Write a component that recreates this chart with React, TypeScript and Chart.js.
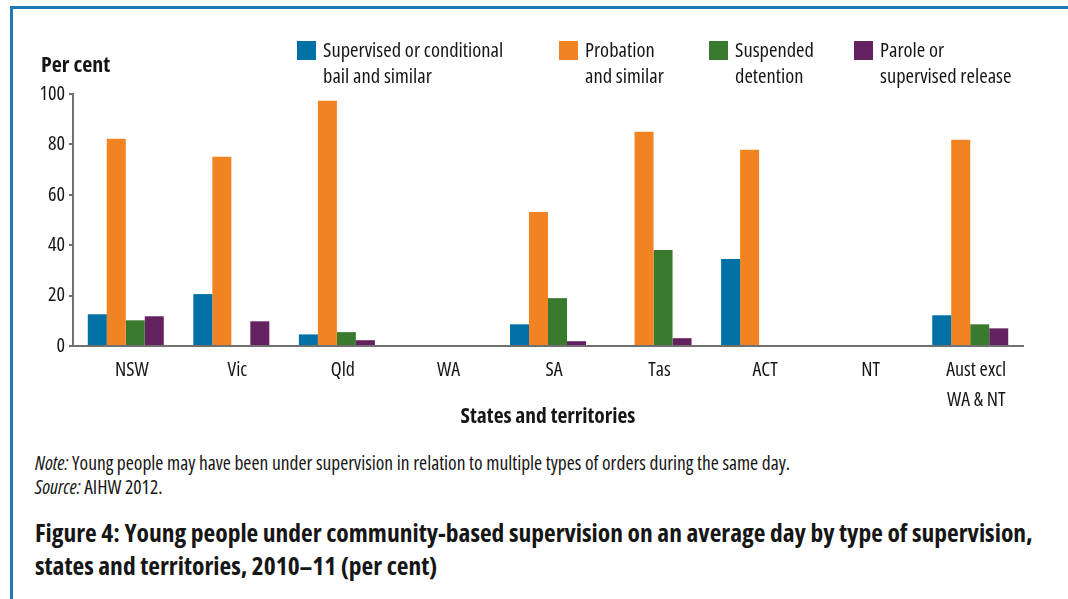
import React, { useEffect, useRef } from "react";
import { Chart, registerables } from "chart.js";

Chart.register(...registerables);

// ---- data ----
const categories: string[][] = [
  ["NSW"], ["Vic"], ["Qld"], ["WA"], ["SA"], ["Tas"], ["ACT"], ["NT"], ["Aust excl", "WA & NT"],
];
const seriesNames: string[][] = [
  ["Supervised or conditional", "bail and similar"],
  ["Probation", "and similar"],
  ["Suspended", "detention"],
  ["Parole or", "supervised release"],
];
const supervisedBail: (number | null)[] = [12.6, 20.6, 4.6, null, 8.6, null, 34.5, null, 12.2];
const probation: (number | null)[] = [82.2, 75.1, 97.3, null, 53.2, 85.0, 77.9, null, 81.8];
const suspendedDetention: (number | null)[] = [10.2, null, 5.5, null, 19.0, 38.1, null, null, 8.6];
const parole: (number | null)[] = [11.8, 9.8, 2.3, null, 1.9, 3.1, null, null, 7.0];
const yTicks: number[] = [0, 20, 40, 60, 80, 100];
const yAxisLabel = "Per cent";
const xAxisLabel = "States and territories";
const noteLines = ["Young people may have been under supervision in relation to multiple types of orders during the same day.", "AIHW 2012."];
const figureTitleLines = [
  "Figure 4: Young people under community-based supervision on an average day by type of supervision,",
  "states and territories, 2010\u201311 (per cent)",
];

// ---- styles ----
const COLORS = ["#0071A7", "#F28322", "#3A7A2E", "#63215F"];
const FAMILY = "'Open Sans', 'Noto Sans', sans-serif";
const TEXT = "#161616";
const AXIS = "#707070";
const LEGEND_X = [297, 559, 709, 854];
const FS = 20;

const overlayPlugin = {
  id: "overlay",
  afterDraw(chart: any) {
    const ctx = chart.ctx;
    ctx.save();
    ctx.textBaseline = "alphabetic";
    ctx.textAlign = "left";
    ctx.fillStyle = TEXT;
    ctx.font = `bold condensed 22px ${FAMILY}`;
    ctx.fillText(yAxisLabel, 41, 72);
    chart.data.datasets.forEach((ds: any, i: number) => {
      const x = LEGEND_X[i];
      ctx.fillStyle = ds.backgroundColor;
      ctx.fillRect(x, 41, 19, 19);
      ctx.fillStyle = TEXT;
      ctx.font = `condensed 20.5px ${FAMILY}`;
      seriesNames[i].forEach((line, j) => ctx.fillText(line, x + 26, 57 + j * 26));
    });
    ctx.restore();
  },
};

function BarChart() {
  const ref = useRef<HTMLCanvasElement>(null);
  useEffect(() => {
    if (!ref.current) return;
    const series = [supervisedBail, probation, suspendedDetention, parole];
    const chart = new Chart(ref.current, {
      type: "bar",
      data: {
        labels: categories,
        datasets: series.map((d, i) => ({
          label: seriesNames[i].join(" "),
          data: d,
          backgroundColor: COLORS[i],
          borderWidth: 0,
          categoryPercentage: 0.72,
          barPercentage: 1.0,
        })),
      },
      options: {
        animation: false,
        responsive: true,
        maintainAspectRatio: false,
        layout: { padding: { top: 94, right: 45, left: 0, bottom: 0 } },
        plugins: { legend: { display: false }, tooltip: { enabled: false }, title: { display: false } },
        scales: {
          x: {
            offset: true,
            grid: { display: false, drawTicks: false },
            border: { display: true, color: AXIS, width: 2 },
            ticks: {
              color: TEXT,
              font: { family: FAMILY, size: FS, weight: "condensed", lineHeight: 1.5 },
              padding: 9,
              labelOffset: 6,
              maxRotation: 0,
              autoSkip: false,
            },
            title: {
              display: true,
              text: xAxisLabel,
              color: TEXT,
              font: { family: FAMILY, size: 21.5, weight: "bold condensed" },
              padding: { top: 0, bottom: 10 },
            },
            afterFit: (s: any) => { s.height = 94; },
          },
          y: {
            min: 0,
            max: 100,
            afterBuildTicks: (s: any) => { s.ticks = yTicks.map((v) => ({ value: v })); },
            grid: { display: true, drawOnChartArea: false, drawTicks: true, tickLength: 4, color: AXIS, lineWidth: 2 },
            border: { display: true, color: AXIS, width: 2 },
            ticks: { color: TEXT, font: { family: FAMILY, size: FS, weight: "condensed" }, padding: 4 },
            afterFit: (s: any) => { s.width = 73; },
          },
        },
      },
      plugins: [overlayPlugin],
    });
    return () => chart.destroy();
  }, []);
  return (
    <div style={{ position: "absolute", left: 0, top: 0, width: 1068, height: 440 }}>
      <canvas ref={ref} />
    </div>
  );
}

export default function App() {
  const textBase: React.CSSProperties = { fontFamily: FAMILY, fontStretch: "condensed", color: TEXT, whiteSpace: "nowrap" };
  return (
    <div style={{ position: "absolute", left: 0, top: 0, width: 1068, height: 599, overflow: "hidden", background: "#fff" }}>
      <div style={{ position: "absolute", left: 10, top: 6, width: 1200, height: 700, borderTop: "3px solid #1F7AB3", borderLeft: "3px solid #1F7AB3" }} />
      <BarChart />
      <div style={{ ...textBase, position: "absolute", left: 35, top: 451, fontSize: 19.5, lineHeight: "24px" }}>
        <div><i>Note:</i> {noteLines[0]}</div>
        <div><i>Source:</i> {noteLines[1]}</div>
      </div>
      <div style={{ ...textBase, position: "absolute", left: 35, top: 516, fontSize: 25.5, fontWeight: "bold", lineHeight: "33px" }}>
        {figureTitleLines.map((l, i) => <div key={i}>{l}</div>)}
      </div>
    </div>
  );
}
